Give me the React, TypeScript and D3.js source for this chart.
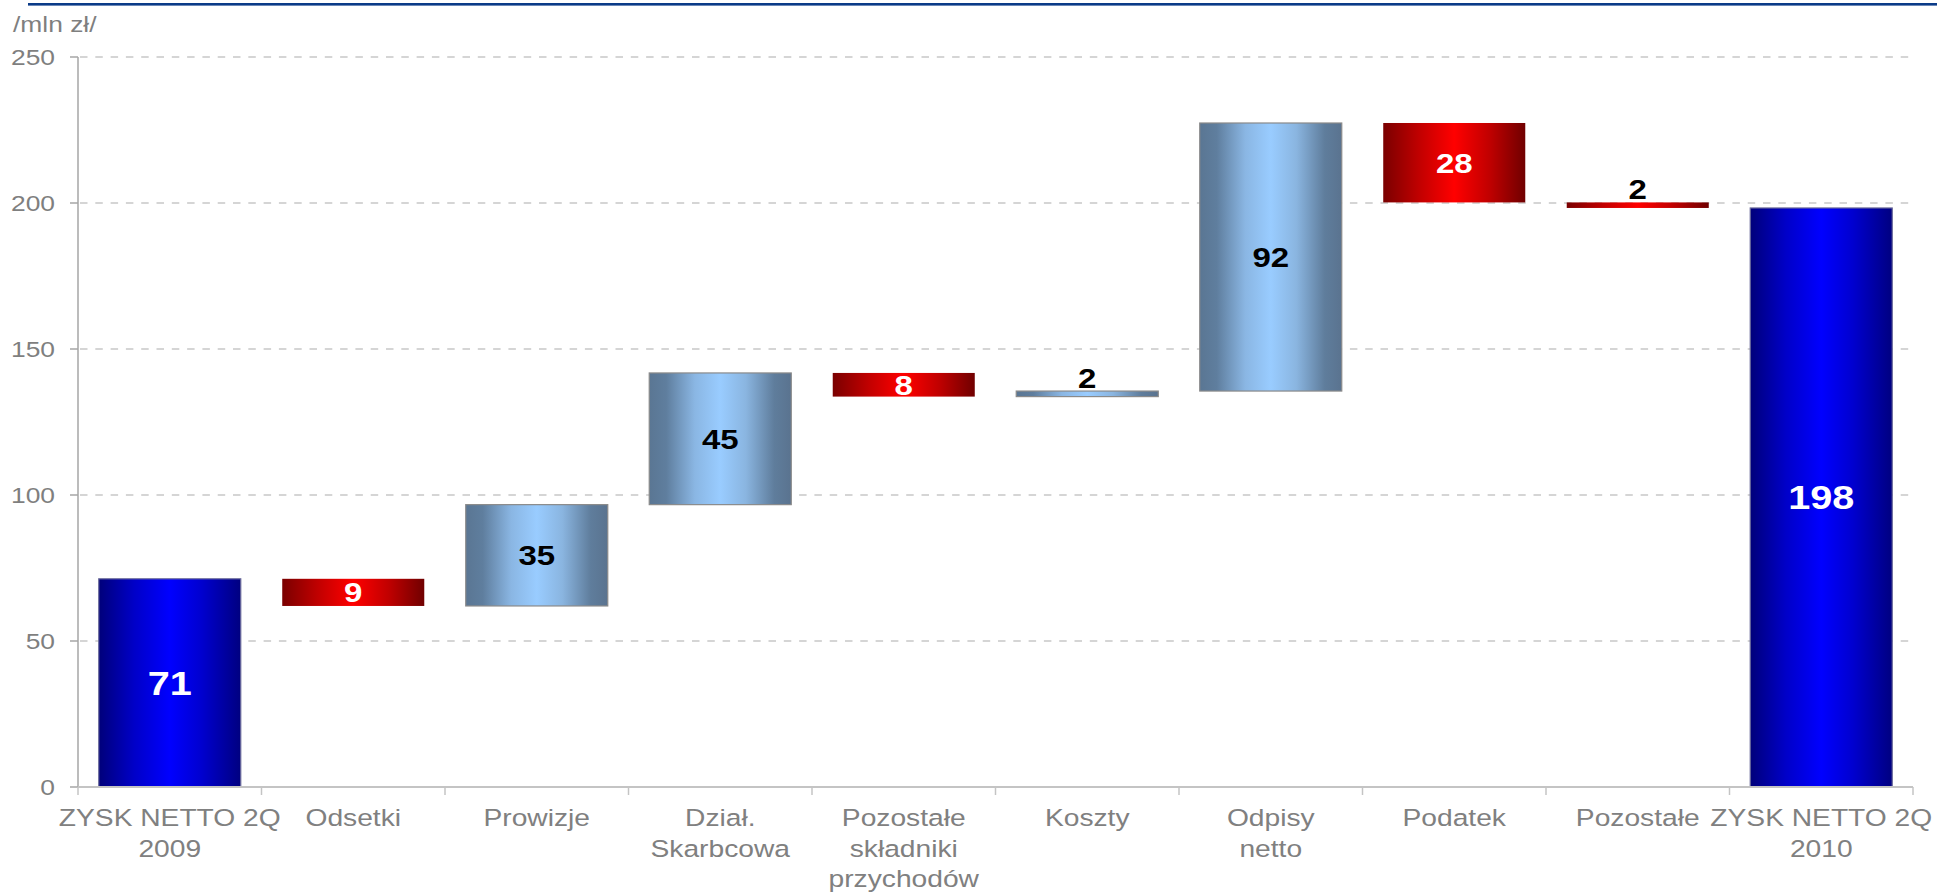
import React from "react";
import * as d3 from "d3";

const categories: string[] = [
  "ZYSK NETTO 2Q\n2009",
  "Odsetki",
  "Prowizje",
  "Dział.\nSkarbcowa",
  "Pozostałe\nskładniki\nprzychodów",
  "Koszty",
  "Odpisy\nnetto",
  "Podatek",
  "Pozostałe",
  "ZYSK NETTO 2Q\n2010",
];
const startValue = 71.3;
const deltas: number[] = [-9.3, 34.7, 45.1, -8.1, 1.9, 91.8, -27.2, -1.9];
const endValue = 198.3;
const valueLabels: string[] = ["71", "9", "35", "45", "8", "2", "92", "28", "2", "198"];
const yTicks: number[] = [0, 50, 100, 150, 200, 250];
const unitLabel = "/mln zł/";

const W = 1937;
const H = 893;
const FONT = "'Liberation Sans', Arial, Helvetica, sans-serif";
const SX = 1.2; // horizontal stretch of text seen in the reference

type Bar = { i: number; y0: number; y1: number; kind: "total" | "up" | "down"; label: string };

export default function App() {
  const x = d3
    .scaleBand<string>()
    .domain(categories)
    .range([78, 1913])
    .paddingInner(0.226)
    .paddingOuter(0.113);
  const y = d3.scaleLinear().domain([0, 250]).range([787, 57]);

  const bars: Bar[] = [];
  bars.push({ i: 0, y0: 0, y1: startValue, kind: "total", label: valueLabels[0] });
  let run = startValue;
  deltas.forEach((d, k) => {
    const next = run + d;
    bars.push({
      i: k + 1,
      y0: Math.min(run, next),
      y1: Math.max(run, next),
      kind: d >= 0 ? "up" : "down",
      label: valueLabels[k + 1],
    });
    run = next;
  });
  bars.push({ i: categories.length - 1, y0: 0, y1: endValue, kind: "total", label: valueLabels[categories.length - 1] });

  const step = x.step();
  const boundaries = d3.range(categories.length + 1).map((k) => 78 + k * step);

  return (
    <svg
      width={W}
      height={H}
      style={{ position: "absolute", left: 0, top: 0, background: "#fff" }}
      fontFamily={FONT}
    >
      <defs>
        <linearGradient id="gTotal" x1="0" x2="1" y1="0" y2="0">
          <stop offset="0" stopColor="#00007a" />
          <stop offset="0.25" stopColor="#0000c8" />
          <stop offset="0.5" stopColor="#0000ff" />
          <stop offset="0.72" stopColor="#0000d0" />
          <stop offset="1" stopColor="#000080" />
        </linearGradient>
        <linearGradient id="gUp" x1="0" x2="1" y1="0" y2="0">
          <stop offset="0" stopColor="#5a7693" />
          <stop offset="0.12" stopColor="#5f7e9e" />
          <stop offset="0.32" stopColor="#8ab6e3" />
          <stop offset="0.5" stopColor="#99ccff" />
          <stop offset="0.68" stopColor="#8ab5e0" />
          <stop offset="0.88" stopColor="#5f7d9c" />
          <stop offset="1" stopColor="#5a738f" />
        </linearGradient>
        <linearGradient id="gDown" x1="0" x2="1" y1="0" y2="0">
          <stop offset="0" stopColor="#7a0000" />
          <stop offset="0.25" stopColor="#c00000" />
          <stop offset="0.5" stopColor="#ff0000" />
          <stop offset="0.75" stopColor="#c00000" />
          <stop offset="1" stopColor="#700000" />
        </linearGradient>
      </defs>

      {/* top rule */}
      <rect x={28} y={3} width={W - 28} height={2.6} fill="#0b3b88" />

      {/* unit label */}
      <text transform={`translate(13,32) scale(${SX},1)`} fontSize={22} fill="#7f7f7f">
        {unitLabel}
      </text>

      {/* gridlines */}
      {yTicks
        .filter((t) => t > 0)
        .map((t) => (
          <line
            key={"g" + t}
            x1={80}
            x2={1913}
            y1={y(t)}
            y2={y(t)}
            stroke="#c8c8c8"
            strokeWidth={1.4}
            strokeDasharray="7.5 7.8"
          />
        ))}

      {/* y axis */}
      <line x1={78} x2={78} y1={y(250)} y2={y(0)} stroke="#a6a6a6" strokeWidth={1.5} />
      {yTicks.map((t) => (
        <g key={"t" + t}>
          <line x1={70} x2={78} y1={y(t)} y2={y(t)} stroke="#a6a6a6" strokeWidth={1.5} />
          <text
            transform={`translate(55,${y(t) + 8}) scale(${SX},1)`}
            textAnchor="end"
            fontSize={22}
            fill="#7f7f7f"
          >
            {t}
          </text>
        </g>
      ))}

      {/* bars */}
      {bars.map((b) => {
        const bx = x(categories[b.i]) as number;
        const bw = x.bandwidth();
        const top = y(b.y1);
        const bot = y(b.y0);
        const h = Math.max(bot - top, 1);
        const fill = b.kind === "total" ? "url(#gTotal)" : b.kind === "up" ? "url(#gUp)" : "url(#gDown)";
        const stroke = b.kind === "total" ? "#6a6a9a" : b.kind === "up" ? "#8a8a8a" : "none";
        const fs = b.kind === "total" ? 33 : 27.5;
        const color = b.kind === "up" ? "#000" : "#fff";
        const inside = h >= fs * 0.716 + 2;
        const ty = inside ? (top + bot) / 2 + (fs * 0.716) / 2 : top - 3;
        const tcolor = inside ? color : "#000";
        return (
          <g key={"b" + b.i}>
            <rect x={bx} y={top} width={bw} height={h} fill={fill} stroke={stroke} strokeWidth={1.2} />
            <text
              transform={`translate(${bx + bw / 2},${ty}) scale(${SX},1)`}
              textAnchor="middle"
              fontSize={fs}
              fontWeight="bold"
              fill={tcolor}
            >
              {b.label}
            </text>
          </g>
        );
      })}

      {/* x axis */}
      <line x1={78} x2={1913} y1={y(0)} y2={y(0)} stroke="#c4c4c4" strokeWidth={2} />
      {boundaries.map((bx, k) => (
        <line key={"xt" + k} x1={bx} x2={bx} y1={y(0)} y2={y(0) + 8} stroke="#c4c4c4" strokeWidth={1.5} />
      ))}
      {categories.map((c) => {
        const cx = (x(c) as number) + x.bandwidth() / 2;
        return c.split("\n").map((line, li) => (
          <text
            key={c + li}
            transform={`translate(${cx},${826 + li * 30.5}) scale(${SX},1)`}
            textAnchor="middle"
            fontSize={23.5}
            fill="#808080"
          >
            {line}
          </text>
        ));
      })}
    </svg>
  );
}
